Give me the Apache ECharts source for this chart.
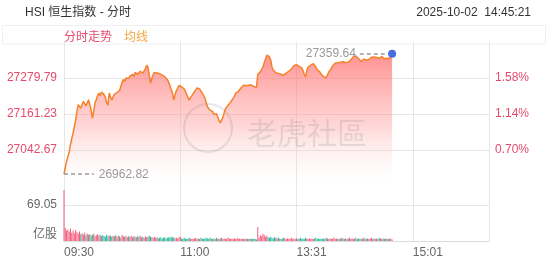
<!DOCTYPE html>
<html><head><meta charset="utf-8">
<script src="https://cdn.jsdelivr.net/npm/echarts@6/dist/echarts.min.js"></script>
<style>html,body{margin:0;padding:0;background:#fff}#c{width:552px;height:265px}</style>
</head><body><div id="c"></div>
<script>
// ---- data ----
const prices = [
26962.82,26985,27005,27020,27035,27060,27080,27098,27120,27140,
27170,27192,27197,27180,27186,27203,27207,27188,27198,27208,
27192,27174,27148,27170,27198,27208,27222,27230,27222,27234,
27233,27225,27217,27198,27190,27230,27218,27207,27218,27226,
27220,27232,27228,27238,27240,27266,27275,27268,27280,27284,
27278,27285,27288,27292,27284,27298,27303,27292,27290,27302,
27306,27296,27298,27310,27322,27315,27290,27263,27280,27290,
27298,27302,27296,27302,27294,27292,27289,27286,27284,27283,
27275,27266,27256,27240,27230,27207,27225,27238,27246,27255,
27256,27251,27250,27244,27236,27230,27215,27207,27215,27222,
27228,27235,27240,27247,27250,27244,27238,27230,27222,27215,
27200,27185,27181,27174,27168,27170,27160,27158,27162,27152,
27140,27132,27138,27150,27165,27178,27182,27190,27195,27200,
27207,27212,27220,27230,27232,27236,27240,27247,27250,27256,
27257,27254,27258,27256,27254,27257,27256,27252,27250,27249,
27292,27296,27300,27306,27316,27330,27342,27355,27354,27350,
27340,27316,27306,27300,27297,27299,27295,27296,27292,27290,
27289,27293,27296,27299,27302,27306,27309,27314,27320,27322,
27324,27321,27318,27316,27314,27304,27292,27283,27305,27316,
27319,27322,27325,27327,27323,27316,27308,27306,27300,27293,
27288,27284,27283,27281,27290,27300,27306,27312,27320,27326,
27329,27332,27330,27334,27332,27329,27333,27330,27331,27336,
27332,27335,27339,27345,27350,27346,27352,27350,27344,27338,
27334,27340,27342,27338,27339,27336,27341,27344,27348,27345,
27349,27351,27347,27350,27345,27347,27350,27346,27343,27348,
27345,27347,27344,27346,27359.64
];
const volumes = [
98,
25,20,22,18,24,16,20,15,21,17,
14,18,13,15,12,16,11,14,12,13,
10,12,14,9,11,13,10,12,9,11,
10,8,12,9,11,10,8,10,9,11,
8,10,9,7,12,9,8,10,7,9,
8,10,7,9,8,7,9,8,10,7,
8,6,9,7,8,10,8,7,6,8,
6,7,5,6,7,5,6,7,5,6,
7,6,8,6,7,5,6,5,7,8,
5,4,6,5,4,5,6,4,5,4,
5,6,4,5,4,6,5,4,5,6,
5,4,6,5,4,5,4,6,5,4,
5,6,4,5,4,5,6,5,4,5,
4,5,4,6,4,5,4,5,4,4,
5,4,4,5,4,4,5,4,3,
27,
6,11,9,14,12,8,10,7,6,8,
6,5,7,6,5,6,5,4,5,6,
5,4,5,4,5,6,4,5,4,5,
4,5,6,4,5,4,6,5,4,5,
4,5,4,5,6,4,5,4,5,4,
5,4,6,5,4,5,4,5,6,4,
5,4,5,4,6,5,4,5,4,5,
6,4,5,4,5,6,4,5,4,5,
4,6,5,4,5,4,5,6,4,5,
4,5,4,6,5,4,5,4,5,4,
5,4,5,3
];
const priceTicks = [27042.67, 27161.23, 27279.79];
const pctLabels = ['0.70%', '1.14%', '1.58%'];
const priceMin = 26924.11, priceMax = 27398.35;
const volTicks = [0, 69.05];
const volMax = 138.1;
const openPrice = 26962.82;
const lastPrice = 27359.64;
const titleText = 'HSI 恒生指数 - 分时';
const timeText = '2025-10-02  14:45:21';

// minute categories: 09:30-11:59, 13:01-16:00
const pad = n => (n < 10 ? '0' : '') + n;
const times = [];
for (let m = 9 * 60 + 30; m < 12 * 60; m++) times.push(pad(Math.floor(m / 60)) + ':' + pad(m % 60));
for (let m = 13 * 60 + 1; m <= 16 * 60; m++) times.push(pad(Math.floor(m / 60)) + ':' + pad(m % 60));

const FONT = "'Liberation Sans', Arial, 'Noto Sans CJK SC', sans-serif";
const RED = '#e64a6b', GREEN = '#26b59b', GRID = '#e6e6e6';
const lastIdx = prices.length - 1;

const chart = echarts.init(document.getElementById('c'), null, { renderer: 'canvas' });
chart.setOption({
  animation: false,
  textStyle: { fontFamily: FONT },
  title: [
    { text: titleText, left: 20, top: 2, textStyle: { fontSize: 12, fontWeight: 'normal', color: '#333', fontFamily: FONT } },
    { text: timeText, right: 16, top: 2, textStyle: { fontSize: 12, fontWeight: 'normal', color: '#333', fontFamily: FONT } }
  ],
  legend: {
    left: 59, top: 32, icon: 'none', itemWidth: 0, itemHeight: 0, itemGap: 7, padding: 0,
    selectedMode: false,
    textStyle: { fontSize: 12, fontFamily: FONT },
    data: [
      { name: '分时走势', textStyle: { color: RED } },
      { name: '均线', textStyle: { color: '#f4a640' } }
    ]
  },
  graphic: [
    { type: 'rect', z: -1, shape: { x: 2.5, y: 25.5, width: 543, height: 18.5 }, style: { fill: 'none', stroke: '#f0f0f0', lineWidth: 1 } },
    { type: 'circle', z: 50, shape: { cx: 208, cy: 128, r: 24 }, style: { fill: 'none', stroke: 'rgba(120,120,120,0.18)', lineWidth: 2 } },
    { type: 'text', z: 50, x: 247, y: 133, style: { text: '老虎社區', font: "30px 'Noto Sans CJK SC'", fill: 'rgba(120,120,120,0.18)', verticalAlign: 'middle' } }
  ],
  grid: [
    { left: 64, width: 425, top: 42, height: 144 },
    { left: 64, width: 425, top: 169, height: 72 }
  ],
  xAxis: [
    { type: 'category', gridIndex: 0, data: times, boundaryGap: false,
      axisLine: { show: false }, axisTick: { show: false }, axisLabel: { show: false, interval: 89 },
      splitLine: { show: true, interval: 89, lineStyle: { color: GRID } } },
    { type: 'category', gridIndex: 1, data: times, boundaryGap: false,
      axisLine: { show: true, lineStyle: { color: '#dcdcdc' } }, axisTick: { show: false },
      axisLabel: { show: true, interval: 89, align: 'left', margin: 6, color: '#666', fontSize: 12, fontFamily: FONT },
      splitLine: { show: true, interval: 89, lineStyle: { color: GRID } } }
  ],
  yAxis: [
    { type: 'value', gridIndex: 0, min: priceMin, max: priceMax, position: 'left',
      axisLine: { show: false }, axisTick: { show: false, customValues: priceTicks },
      axisLabel: { customValues: priceTicks, margin: 7, color: RED, fontSize: 12, fontFamily: FONT, formatter: v => v.toFixed(2) },
      splitLine: { show: true, lineStyle: { color: GRID } } },
    { type: 'value', gridIndex: 0, min: priceMin, max: priceMax, position: 'right',
      axisLine: { show: true, lineStyle: { color: GRID } }, axisTick: { show: false, customValues: priceTicks },
      axisLabel: { customValues: priceTicks, margin: 6, color: RED, fontSize: 12, fontFamily: FONT,
        formatter: v => { let k = 0, d = Infinity; priceTicks.forEach((t, i) => { if (Math.abs(t - v) < d) { d = Math.abs(t - v); k = i; } }); return pctLabels[k]; } },
      splitLine: { show: false } },
    { type: 'value', gridIndex: 1, min: 0, max: volMax, position: 'left',
      axisLine: { show: false }, axisTick: { show: false, customValues: volTicks },
      axisLabel: { customValues: volTicks, margin: 7, color: '#666', fontSize: 12, fontFamily: FONT,
        formatter: v => (v === 0 ? '{u|亿股}' : v.toFixed(2)),
        rich: { u: { fontSize: 12, color: '#666', fontFamily: FONT, padding: [0, 0, 12, 0] } } },
      splitLine: { show: true, lineStyle: { color: GRID } } },
    { type: 'value', gridIndex: 1, min: 0, max: volMax, position: 'right',
      axisLine: { show: true, lineStyle: { color: GRID } }, axisTick: { show: false }, axisLabel: { show: false },
      splitLine: { show: false } }
  ],
  series: [
    { name: '分时走势', type: 'line', xAxisIndex: 0, yAxisIndex: 0, data: prices, showSymbol: false, smooth: false,
      lineStyle: { color: '#f5822a', width: 1.5 },
      itemStyle: { color: '#f5822a' },
      areaStyle: { color: new echarts.graphic.LinearGradient(0, 0, 0, 1, [
        { offset: 0, color: 'rgba(255,85,85,0.92)' },
        { offset: 0.55, color: 'rgba(255,150,150,0.55)' },
        { offset: 1, color: 'rgba(255,255,255,0.1)' }]) },
      markLine: { silent: true, symbol: ['none', 'none'], animation: false,
        lineStyle: { color: '#999', type: [4, 3], width: 1.5 },
        label: { color: '#999', fontSize: 12, fontFamily: FONT },
        data: [
          [{ coord: [0, openPrice], label: { position: 'end', distance: 5, formatter: openPrice.toFixed(2) } }, { coord: [23, openPrice] }],
          [{ coord: [lastIdx - 25, lastPrice], label: { position: 'start', distance: 4, formatter: lastPrice.toFixed(2) } }, { coord: [lastIdx, lastPrice] }]
        ] },
      markPoint: { silent: true, symbol: 'circle', symbolSize: 8, itemStyle: { color: '#4a6ee0' }, label: { show: false },
        data: [{ coord: [lastIdx, lastPrice] }] }
    },
    { name: '均线', type: 'line', xAxisIndex: 0, yAxisIndex: 0, data: [], itemStyle: { color: '#f4a640' } },
    { name: '成交量', type: 'bar', xAxisIndex: 1, yAxisIndex: 2, data: volumes, barWidth: 1,
      itemStyle: { color: p => (p.dataIndex === 0 || prices[p.dataIndex] >= prices[p.dataIndex - 1]) ? '#f25b7a' : GREEN } }
  ]
});
</script></body></html>
